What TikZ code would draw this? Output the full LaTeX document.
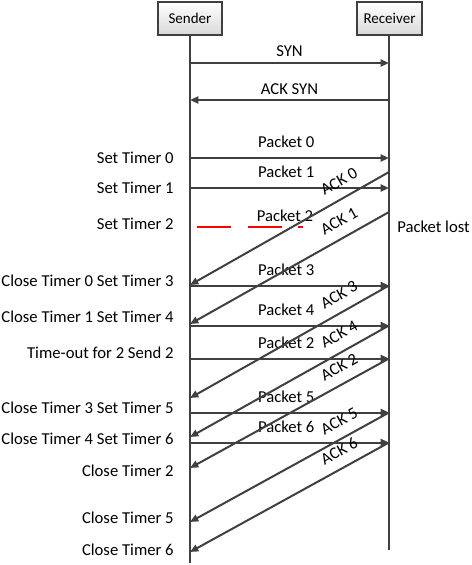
\documentclass[tikz,border=0pt]{standalone}
\usepackage{fontspec}
\setmainfont{Carlito}
\usetikzlibrary{arrows.meta}
\definecolor{linegray}{HTML}{404040}
\tikzset{
  lifebox/.style={draw=linegray, line width=1.2pt, top color=white, bottom color=gray!30,
    minimum height=19.8pt, inner sep=0pt, font=\fontsize{9}{11}\selectfont},
  life/.style={draw=linegray, line width=1.2pt},
  msg/.style={draw=linegray, line width=1.2pt, -{Triangle[length=5pt,width=4.2pt]}},
  ack/.style={draw=linegray, line width=1.2pt, {Triangle[length=5pt,width=4.2pt]}-},
  lost/.style={draw=red, line width=1.2pt, dash pattern=on 20.4pt off 9.9pt},
  lbl/.style={font=\fontsize{10}{12}\selectfont, inner sep=0pt},
}
\begin{document}
\begin{tikzpicture}[x=0.6pt, y=-0.6pt]
    \useasboundingbox (0,0) rectangle (472,565);
    % the two hosts
    \node[lifebox, minimum width=38.4pt] (sender) at (190,18.5) {Sender};
    \node[lifebox, minimum width=39pt] (receiver) at (389.5,18.5) {Receiver};
    \coordinate (sender-end) at (190,563);
    \coordinate (receiver-end) at (389,550);
    \draw[life] (sender) -- (sender-end);
    \draw[life] (receiver.south -| receiver-end) -- (receiver-end);
    % points on the lifelines
    \foreach \n/\y in {syn/63, asyn/100, p0/158, p1/188, p3/285.5, p4/325.5, p2/358.5, p5/412.5, p6/442.5,
                       a0/285, a1/324, a3/398, a4/437, a2/468, a5/522, a6/552}
        \coordinate (s-\n) at (190,\y);
    \foreach \n/\y in {syn/63, asyn/100, p0/158, a0/172, p1/188, a1/212, p3/285.5, p4/325.5, p2/358.5,
                       p5/412.5, p6/442.5}
        \coordinate (r-\n) at (389,\y);
    % handshake
    \draw[msg] (s-syn) -- node[lbl, above=3.4pt] {SYN} (r-syn);
    \draw[msg] (r-asyn) -- node[lbl, above=2.8pt] {ACK SYN} (s-asyn);
    % packets
    \foreach \n/\txt in {p0/Packet 0, p1/Packet 1, p3/Packet 3, p4/Packet 4, p2/Packet 2, p5/Packet 5, p6/Packet 6}
        \draw[msg] (s-\n) -- node[lbl, above=5.4pt, xshift=-2pt] {\txt} (r-\n);
    % lost packet
    \coordinate (lost-a) at (197,227);
    \coordinate (lost-b) at (303,227);
    \draw[lost] (lost-a) -- node[lbl, pos=0.83, above=2.8pt] {Packet 2} (lost-b);
    \node[lbl, anchor=west] (lostlbl) at (397,227) {Packet lost};
    % acknowledgements
    \foreach \a/\b/\txt in {a0/a0/ACK 0, a1/a1/ACK 1, a3/p3/ACK 3, a4/p4/ACK 4, a2/p2/ACK 2, a5/p5/ACK 5, a6/p6/ACK 6}
        \draw[ack] (s-\a) -- node[lbl, pos=0.79, sloped, above=6pt] {\txt} (r-\b);
    % timer events
    \foreach \y/\txt [count=\i] in {158/Set Timer 0, 188/Set Timer 1, 224/Set Timer 2,
            281/Close Timer 0 Set Timer 3, 317/Close Timer 1 Set Timer 4, 353/Time-out for 2 Send 2,
            408/Close Timer 3 Set Timer 5, 439/Close Timer 4 Set Timer 6, 471/Close Timer 2,
            518/Close Timer 5, 550/Close Timer 6}
        \node[lbl, anchor=east] (timer\i) at (174,\y) {\txt};
\end{tikzpicture}
\end{document}
